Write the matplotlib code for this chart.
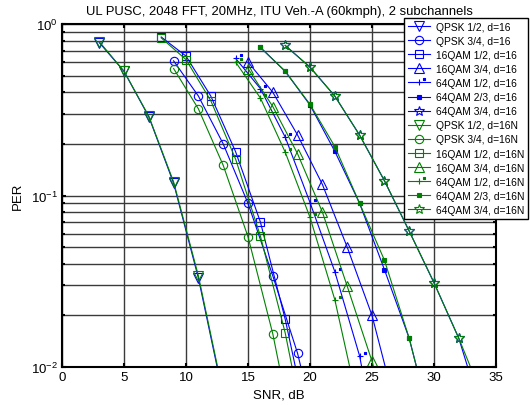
import matplotlib
matplotlib.use("Agg")
import matplotlib.pyplot as plt
from matplotlib.path import Path
from matplotlib.ticker import LogLocator, NullFormatter, FixedLocator

plt.rcParams['font.family'] = ['Liberation Sans', 'DejaVu Sans']
plt.rcParams['mathtext.fontset'] = 'custom'
plt.rcParams['mathtext.rm'] = 'Liberation Sans'
plt.rcParams['mathtext.it'] = 'Liberation Sans'

title = "UL PUSC, 2048 FFT, 20MHz, ITU Veh.-A (60kmph), 2 subchannels"
xlabel = "SNR, dB"
ylabel = "PER"

# ---- data (SNR dB, PER) ----
qpsk12_x = [3, 5, 7, 9, 11, 13]
qpsk12_d16 = [0.78, 0.53, 0.288, 0.118, 0.033, 0.0068]
qpsk12_d16n = [0.79, 0.53, 0.29, 0.12, 0.034, 0.007]

qpsk34_x = [9, 11, 13, 15, 17, 19, 21]
qpsk34_d16 = [0.61, 0.38, 0.20, 0.09, 0.034, 0.012, 0.003]
qpsk34_d16n = [0.55, 0.32, 0.15, 0.0575, 0.0156, 0.003, 0.0006]

qam16_12_x = [8, 10, 12, 14, 16, 18, 20]
qam16_12_d16 = [0.84, 0.65, 0.38, 0.18, 0.07, 0.019, 0.004]
qam16_12_d16n = [0.83, 0.62, 0.357, 0.163, 0.058, 0.0158, 0.003]

qam16_34_x = [15, 17, 19, 21, 23, 25, 27]
qam16_34_d16 = [0.60, 0.40, 0.225, 0.116, 0.05, 0.020, 0.0055]
qam16_34_d16n = [0.55, 0.33, 0.175, 0.08, 0.0296, 0.0108, 0.003]

qam64_12_x = [14, 16, 18, 20, 22, 24, 26]
qam64_12_d16 = [0.63, 0.42, 0.219, 0.091, 0.036, 0.0116, 0.002]
qam64_12_d16n = [0.60, 0.37, 0.179, 0.0746, 0.0247, 0.0055, 0.001]

qam64_23_x = [16, 18, 20, 22, 24, 26, 28, 30]
qam64_23_d16 = [0.73, 0.53, 0.337, 0.181, 0.090, 0.037, 0.0147, 0.004]
qam64_23_d16n = [0.73, 0.53, 0.34, 0.193, 0.090, 0.042, 0.0147, 0.004]

qam64_34_x = [18, 20, 22, 24, 26, 28, 30, 32, 34]
qam64_34_d16 = [0.75, 0.56, 0.38, 0.225, 0.122, 0.062, 0.031, 0.0147, 0.005]
qam64_34_d16n = [0.75, 0.56, 0.38, 0.225, 0.122, 0.062, 0.031, 0.0147, 0.0065]

labels_mod = ["QPSK 1/2", "QPSK 3/4", "16QAM 1/2", "16QAM 3/4",
              "64QAM 1/2", "64QAM 2/3", "64QAM 3/4"]

# custom marker: plus with small filled square at upper right
plus_sq = Path(
    [(-1, 0), (1, 0), (0, -1), (0, 1),
     (1.1, 0.6), (1.7, 0.6), (1.7, 1.2), (1.1, 1.2), (1.1, 0.6)],
    [Path.MOVETO, Path.LINETO, Path.MOVETO, Path.LINETO,
     Path.MOVETO, Path.LINETO, Path.LINETO, Path.LINETO, Path.CLOSEPOLY])

series = [
    (qpsk12_x, qpsk12_d16, qpsk12_d16n, dict(marker='v', ms=7, mfc='none')),
    (qpsk34_x, qpsk34_d16, qpsk34_d16n, dict(marker='o', ms=6, mfc='none')),
    (qam16_12_x, qam16_12_d16, qam16_12_d16n, dict(marker='s', ms=6, mfc='none')),
    (qam16_34_x, qam16_34_d16, qam16_34_d16n, dict(marker='^', ms=7, mfc='none')),
    (qam64_12_x, qam64_12_d16, qam64_12_d16n, dict(marker=plus_sq, ms=8, filled=True)),
    (qam64_23_x, qam64_23_d16, qam64_23_d16n, dict(marker='s', ms=3, filled=True)),
    (qam64_34_x, qam64_34_d16, qam64_34_d16n, dict(marker='*', ms=7, mfc='none')),
]

blue = '#0000ff'
green = '#008000'

fig = plt.figure(figsize=(5.30, 4.06), dpi=100)
ax = fig.add_axes([62/530, 1-368/406, (496-62)/530, (368-25)/406])
ax.set_yscale('log')

handles = []
for color, idx, suffix in [(blue, 1, "d=16"), (green, 2, "d=16N")]:
    for (x, y1, y2, st), lab in zip(series, labels_mod):
        y = y1 if idx == 1 else y2
        kw = dict(marker=st['marker'], markersize=st['ms'], markeredgewidth=0.8,
                  color=color, markeredgecolor=color, linewidth=0.8)
        if st.get('filled'):
            kw['markerfacecolor'] = color
        else:
            kw['markerfacecolor'] = 'none'
        h, = ax.plot(x, y, label=f"{lab}, {suffix}", **kw)
        handles.append(h)

ax.set_xlim(0, 35)
ax.set_ylim(1e-2, 1e0)
ax.xaxis.set_major_locator(FixedLocator([0, 5, 10, 15, 20, 25, 30, 35]))
ax.yaxis.set_major_locator(LogLocator(base=10, numticks=5))
ax.yaxis.set_minor_locator(LogLocator(base=10, subs=range(2, 10), numticks=10))
ax.yaxis.set_minor_formatter(NullFormatter())

ax.grid(True, which='major', axis='x', color='#3a3a3a', linewidth=1.0)
ax.grid(True, which='both', axis='y', color='#3a3a3a', linewidth=1.0)
ax.set_axisbelow(True)

ax.tick_params(which='both', direction='in', top=True, right=True,
               labelsize=9.5, width=1.5, color='black', pad=3)
ax.tick_params(which='major', length=3)
ax.tick_params(which='minor', length=2.5)
for s in ax.spines.values():
    s.set_linewidth(1.5)
    s.set_color('black')

ax.set_title(title, fontsize=9.4, pad=7)
ax.set_xlabel(xlabel, fontsize=9.5, labelpad=4)
ax.set_ylabel(ylabel, fontsize=9.5, labelpad=5)

leg = fig.legend(handles=handles, loc='upper left',
                 bbox_to_anchor=(404/530, 1-19/406),
                 fontsize=7.4, frameon=True, fancybox=False,
                 edgecolor='black', framealpha=1.0,
                 handlelength=2.2, handletextpad=0.6,
                 labelspacing=0.40, borderpad=0.35, borderaxespad=0)
leg.get_frame().set_linewidth(1.0)

fig.savefig("out.png", dpi=100)
